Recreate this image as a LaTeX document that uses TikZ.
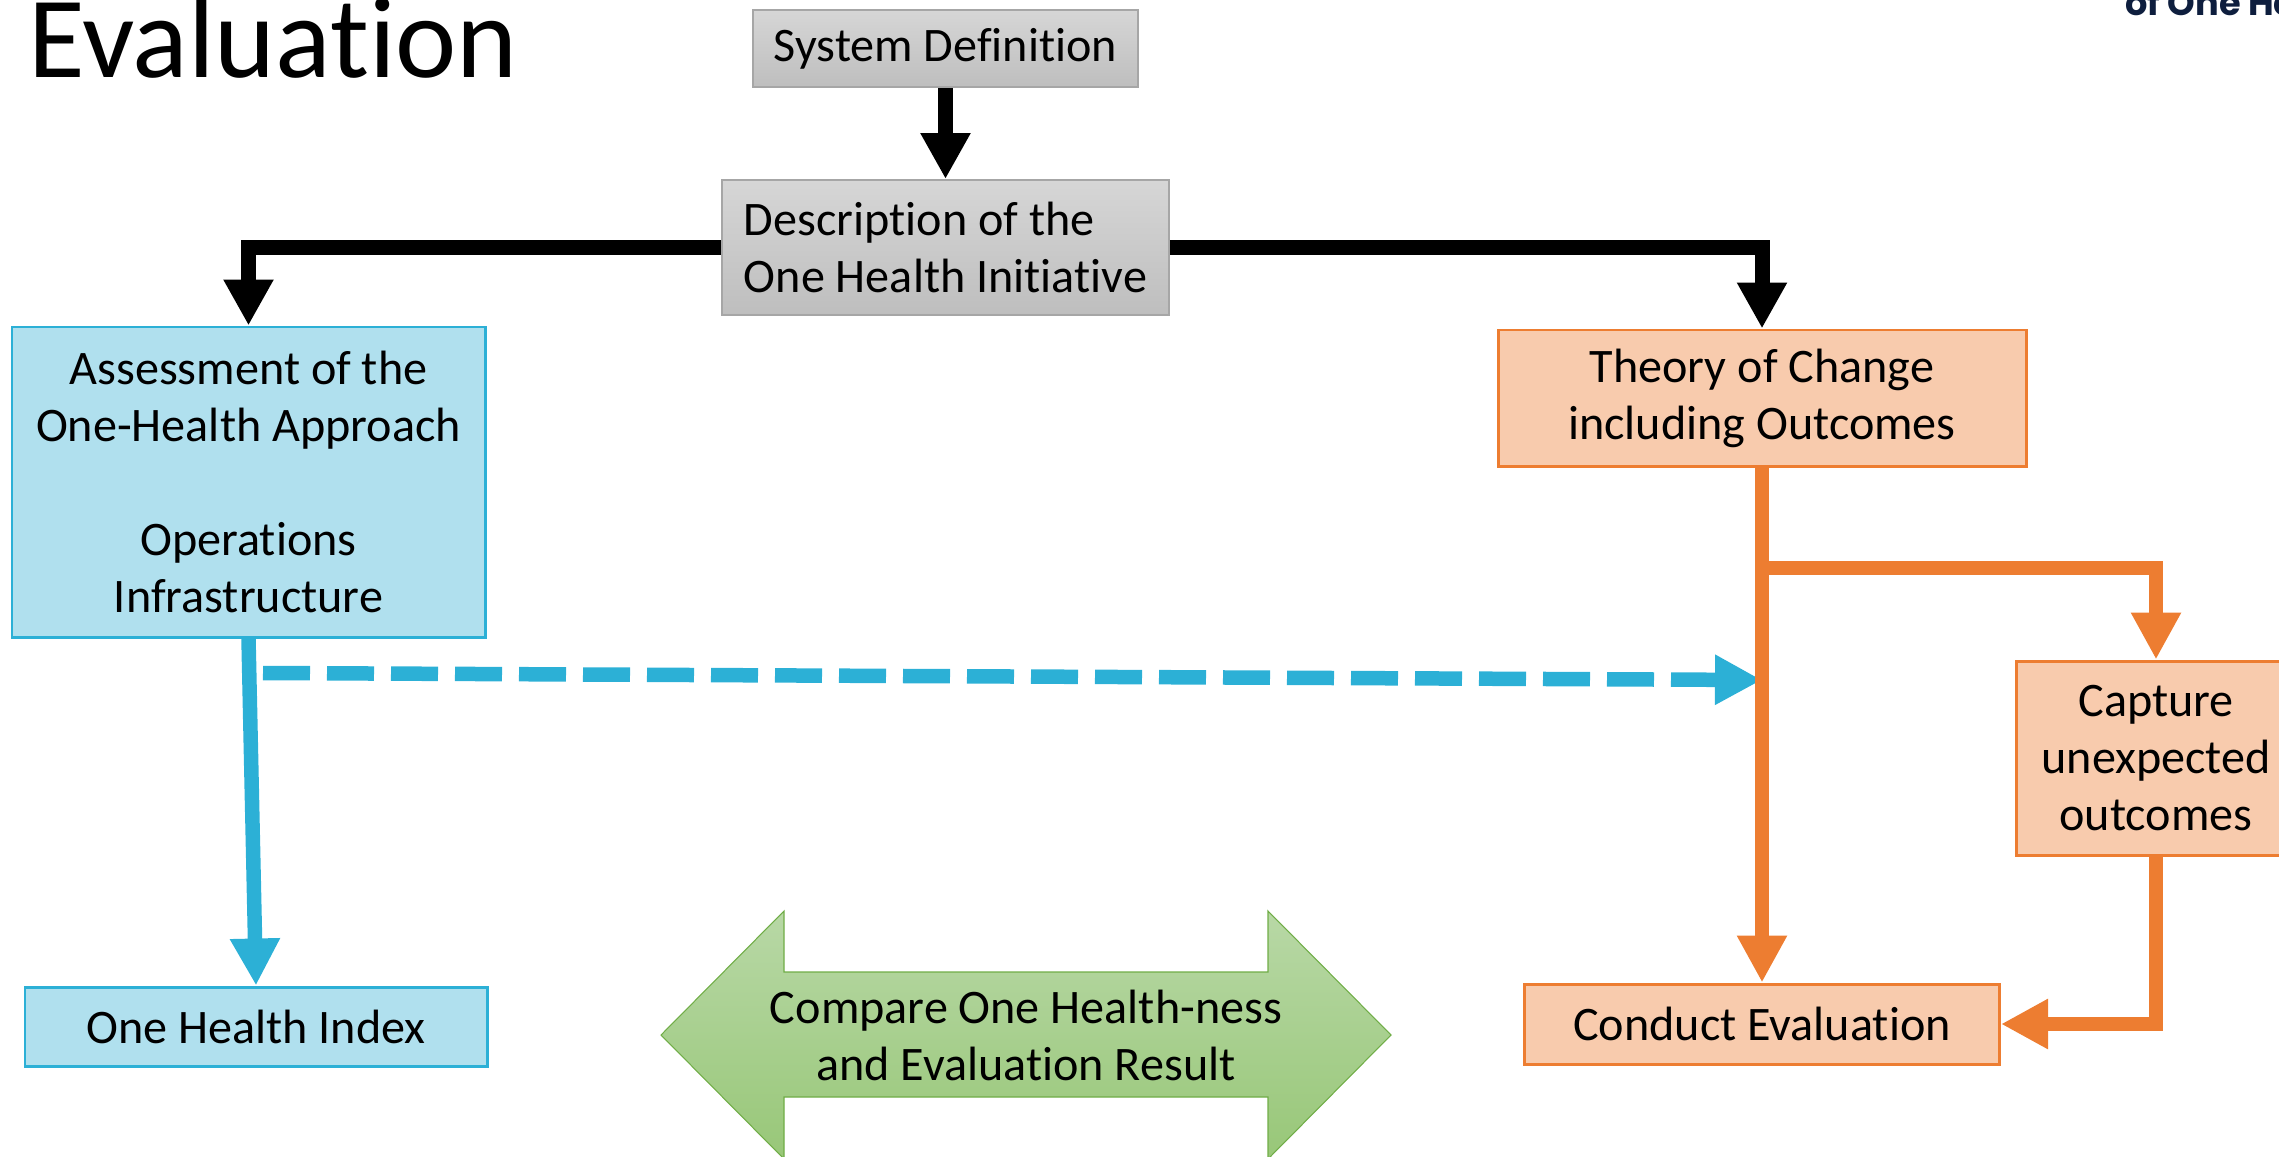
\documentclass[tikz,border=0pt]{standalone}
\usepackage{fontspec}
\setmainfont{Carlito}[Ligatures=NoCommon]
\newfontfamily\headfont{Poppins}
\usetikzlibrary{arrows.meta}

\definecolor{greytop}{RGB}{214,214,214}
\definecolor{greybot}{RGB}{190,190,190}
\definecolor{greyline}{RGB}{166,166,166}
\definecolor{ohblue}{RGB}{44,176,214}
\definecolor{ohbluefill}{RGB}{176,224,238}
\definecolor{ohorange}{RGB}{237,125,49}
\definecolor{ohorangefill}{RGB}{248,203,173}
\definecolor{ohgreen}{RGB}{112,173,71}
\definecolor{greentop}{RGB}{184,216,166}
\definecolor{greenbot}{RGB}{152,199,120}
\definecolor{navy}{RGB}{14,30,62}

\begin{document}
\begin{tikzpicture}[every node/.style={font=\fontsize{27.4}{32.4}\selectfont},
	greybox/.style={draw=greyline, line width=1.1pt, top color=greytop, bottom color=greybot, inner sep=0pt},
	bluebox/.style={draw=ohblue, fill=ohbluefill, line width=1.7pt, align=center, inner sep=0pt},
	orangebox/.style={draw=ohorange, fill=ohorangefill, line width=1.7pt, align=center, inner sep=0pt},
	blackarrow/.style={line width=0.30cm, -{Triangle[length=0.92cm, width=0.94cm]}},
	bluearrow/.style={draw=ohblue, line width=0.29cm, -{Triangle[length=0.94cm, width=0.94cm]}},
	orangearrow/.style={draw=ohorange, line width=0.29cm, -{Triangle[length=0.94cm, width=0.94cm]}}]
	\useasboundingbox (0,0) rectangle (45.58,-23.12);
	\clip (0,0) rectangle (45.58,-23.12);

	\node[anchor=base west, font=\fontsize{66}{74}\selectfont](TITLE) at (0.44,-1.55){Evaluation};
	\node[anchor=base west, text=navy, font=\headfont\bfseries\fontsize{20}{24}\selectfont](LOGO) at (42.38,-0.30){of One Health};

	\node[greybox, minimum width=7.70cm, minimum height=1.54cm](SD) at (18.91,-0.97){System Definition};
	\node[greybox, align=left, minimum width=8.94cm, minimum height=2.70cm, below of=SD, node distance=3.98cm](DESC){Description of the\\One Health Initiative};

	\node[bluebox, minimum width=9.46cm, minimum height=6.20cm](OHA) at (4.97,-9.64){Assessment of the\\One-Health Approach\\[32.4pt]Operations\\Infrastructure};
	\node[bluebox, minimum width=9.24cm, minimum height=1.58cm](OHI) at (5.12,-20.53){One Health Index};

	\node[orangebox, minimum width=10.56cm, minimum height=2.72cm](TOC) at (35.24,-7.96){Theory of Change\\including Outcomes};
	\node[orangebox, minimum width=9.50cm, minimum height=1.60cm, below of=TOC, node distance=12.52cm](EVAL){Conduct Evaluation};
	\node[orangebox, minimum width=5.60cm, minimum height=3.88cm](CAP) at (43.12,-15.16){Capture\\unexpected\\outcomes};

	\path[draw=ohgreen, line width=0.6pt, top color=greentop, bottom color=greenbot] (13.22,-20.70) -- (15.68,-18.22) -- (15.68,-19.44) -- (25.36,-19.44) -- (25.36,-18.22) -- (27.82,-20.70) -- (25.36,-23.18) -- (25.36,-21.94) -- (15.68,-21.94) -- (15.68,-23.18) -- cycle;
	\node[align=center](CMP) at (20.52,-20.70){Compare One Health-ness\\and Evaluation Result};

	\draw[blackarrow] (SD) -- (DESC);
	\draw[blackarrow] (DESC.west) -| (OHA.north);
	\draw[blackarrow] (DESC.east) -| (TOC.north);

	\draw[bluearrow] (OHA.south) -- (OHI.north);
	\coordinate (DS) at (5.26,-13.46);
	\coordinate (DE) at (35.24,-13.60);
	\draw[bluearrow, dash pattern=on 0.94cm off 0.34cm] (DS) -- (DE);

	\draw[orangearrow] (TOC) -- (EVAL);
	\coordinate (BR) at (35.26,-11.36);
	\draw[orangearrow] (BR) -| (CAP.north);
	\draw[orangearrow] (CAP.south) |- (EVAL.east);
\end{tikzpicture}
\end{document}
